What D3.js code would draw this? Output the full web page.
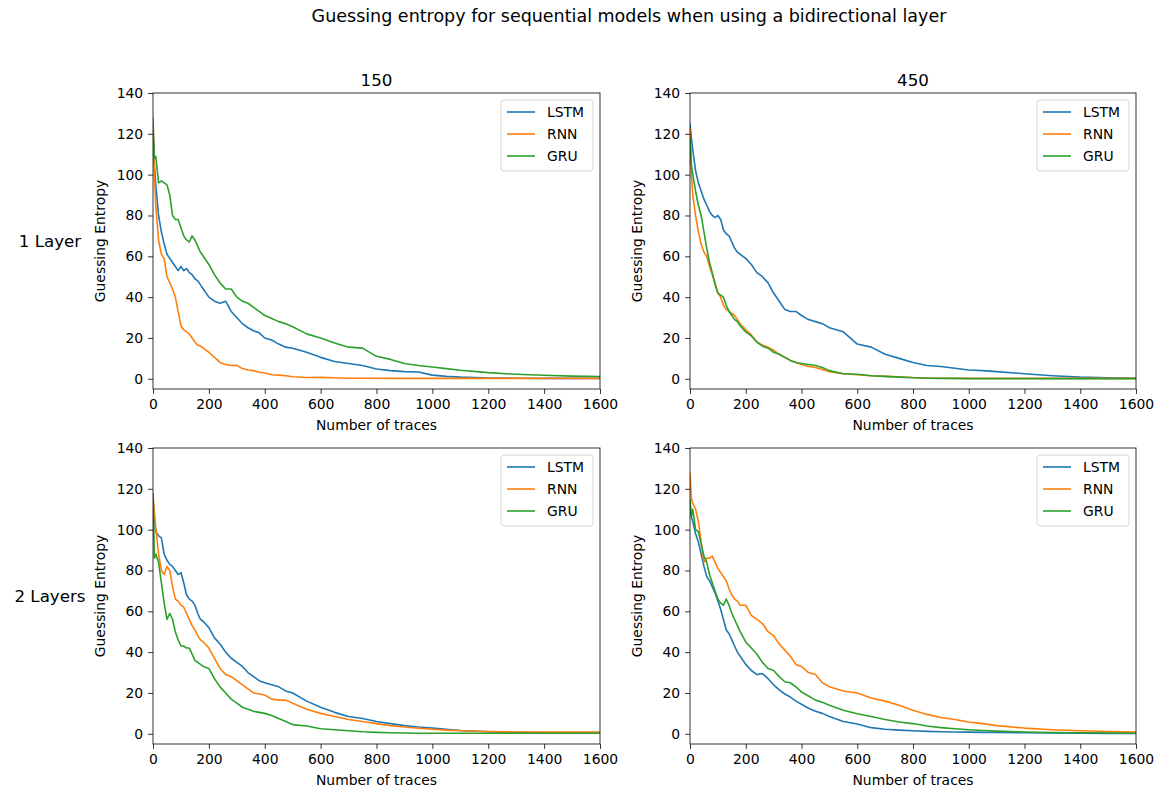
<!DOCTYPE html>
<html lang="en">
<head>
<meta charset="UTF-8">
<title>Guessing entropy</title>
<script src="https://d3js.org/d3.v7.min.js"></script>
<style>
    body {margin: 0; background: #fff;}
    text {font-family: "DejaVu Sans", sans-serif; fill: #000;}
</style>
</head>
<body>
<script>
    // number of traces (x positions shared by every curve)
    const traces = [0, 5, 10, 20, 30, 40, 50, 60, 70, 80, 90, 100, 110, 120, 130, 140, 150, 160, 170, 180,
        200, 220, 240, 260, 280, 300, 320, 340, 360, 380, 400, 425, 450, 475, 500,
        550, 600, 650, 700, 750, 800, 850, 900, 950, 1000, 1050, 1100, 1200, 1300, 1400, 1500, 1600];

    const models = ["LSTM", "RNN", "GRU"];
    const colNames = ["150", "450"];
    const rowNames = ["1 Layer", "2 Layers"];
    const yTicks = [0, 20, 40, 60, 80, 100, 120, 140];
    const xTicks = [0, 200, 400, 600, 800, 1000, 1200, 1400, 1600];

    // 1 layer, 150
    const l1_150_lstm = [121, 105, 95, 80, 72, 66, 61, 59, 57, 55, 53, 55, 53, 54, 52, 51, 49, 48, 46, 44,
        40, 38, 37, 38, 33, 30, 27, 25, 23.5, 22.5, 20, 19, 17, 15.5, 15,
        13, 10.5, 8.5, 7.5, 6.5, 4.8, 4, 3.5, 3.3, 1.8, 1.2, 0.8, 0.4, 0.3, 0.2, 0.2, 0.2];
    const l1_150_rnn = [128, 100, 85, 68, 61, 59, 50, 47, 44, 40, 33, 26, 24, 23, 22, 20, 18, 16.5, 16, 15,
        13, 10.5, 8, 7, 6.5, 6.6, 5, 4.3, 4, 3.2, 2.8, 2, 1.8, 1.5, 1,
        0.6, 0.7, 0.5, 0.3, 0.3, 0.3, 0.2, 0.2, 0.2, 0.2, 0.2, 0.2, 0.2, 0.2, 0.2, 0.2, 0.2];
    const l1_150_gru = [125, 108, 109, 96, 97, 96, 95, 90, 80, 78, 78, 74, 70, 68, 67, 70, 68, 65, 62, 60,
        56, 51, 47, 44, 44, 40, 38, 37, 35, 33, 31, 29.5, 28, 27, 25.5,
        22, 20, 17.5, 15.5, 15, 11, 9.5, 7.5, 6.5, 5.8, 5, 4.2, 3, 2.2, 1.7, 1.3, 1.1];

    // 1 layer, 450
    const l1_450_lstm = [125, 118, 112, 102, 96, 92, 88, 85, 82, 80, 79, 80, 78, 73, 71, 70, 67, 64, 62, 61,
        59, 56, 52, 50, 47, 42, 38, 34, 33, 33, 31, 29, 28, 27, 25,
        23, 17, 15.5, 12, 10, 8, 6.5, 6, 5.2, 4.3, 4, 3.5, 2.5, 1.5, 0.8, 0.5, 0.3];
    const l1_450_rnn = [123, 100, 90, 80, 72, 66, 62, 60, 55, 51, 47, 42, 40, 36, 34, 33, 32, 31, 29, 27,
        24, 21.5, 18, 16.5, 15.5, 14, 12, 10.5, 9, 8, 7, 6, 5.5, 4.5, 3.5,
        2.5, 2, 1.5, 1.2, 1, 0.6, 0.4, 0.3, 0.2, 0.2, 0.2, 0.2, 0.2, 0.2, 0.2, 0.2, 0.2];
    const l1_450_gru = [118, 105, 100, 92, 85, 80, 72, 64, 57, 52, 46, 42, 41, 40, 36, 33, 31, 29, 28, 26,
        23, 21, 18, 16, 15, 13, 12, 10.5, 9, 8, 7.5, 7, 6.5, 5.5, 4,
        2.5, 2.2, 1.5, 1.2, 0.8, 0.5, 0.3, 0.2, 0.2, 0.1, 0.1, 0.1, 0.1, 0.1, 0.1, 0.1, 0.1];

    // 2 layers, 150
    const l2_150_lstm = [116, 105, 99, 97, 96, 88, 85, 83, 82, 80, 78, 79, 74, 68, 66, 65, 63, 59, 56, 55,
        52, 47, 44, 40, 37, 35, 33, 30, 28, 26, 25, 24, 23, 21, 20,
        16, 13, 10.5, 8.5, 7.5, 6, 5, 4, 3.3, 2.8, 2.2, 1.6, 1, 0.7, 0.5, 0.4, 0.3];
    const l2_150_rnn = [117, 108, 101, 88, 80, 78, 82, 80, 72, 66, 65, 63, 62, 59, 56, 53, 51, 48, 46, 45,
        42, 37, 32, 29, 28, 26, 24, 22, 20, 19.5, 19, 17, 16.5, 16.5, 15,
        12, 10, 8.5, 7, 6, 5, 4, 3.3, 2.7, 2.2, 1.8, 1.5, 1.1, 0.9, 0.8, 0.8, 0.9];
    const l2_150_gru = [118, 86, 88, 84, 74, 64, 56, 59, 56, 50, 46, 43, 43, 42, 42, 39, 36, 35, 34, 33,
        32, 27, 23, 20, 17, 15, 13, 12, 11, 10.5, 10, 9, 7.5, 6, 4.5,
        3.8, 2.5, 2, 1.5, 1, 0.7, 0.5, 0.4, 0.3, 0.3, 0.3, 0.3, 0.3, 0.3, 0.3, 0.3, 0.3];

    // 2 layers, 450
    const l2_450_lstm = [112, 106, 104, 98, 94, 88, 82, 77, 75, 72, 69, 65, 61, 56, 51, 49, 46, 43, 40, 38,
        34, 31, 29, 29.5, 27, 24, 21.5, 19.5, 18, 16, 14.5, 12.5, 11, 10, 8.5,
        6, 4.8, 3, 2.2, 1.8, 1.5, 1.2, 1, 0.9, 0.8, 0.7, 0.6, 0.5, 0.4, 0.3, 0.2, 0.2];
    const l2_450_rnn = [128, 115, 113, 110, 104, 94, 84, 86, 86, 87, 84, 81, 79, 77, 75, 71, 68, 66, 65, 63,
        63, 58, 56, 54, 50, 48, 44, 41, 38, 34, 33, 30, 29, 25, 23,
        21, 20, 17.5, 16, 14, 11.5, 9.5, 8, 7, 5.8, 5, 4, 2.8, 2, 1.5, 1.1, 0.8];
    const l2_450_gru = [115, 106, 110, 100, 99, 93, 87, 84, 78, 74, 70, 66, 64, 63, 66, 63, 59, 56, 53, 50,
        45, 42, 39, 35, 32, 31, 28, 25.5, 25, 23, 20.5, 18.5, 16.5, 15.5, 14,
        11.5, 9.8, 8.5, 7, 5.8, 5, 3.8, 3, 2.5, 2, 1.6, 1.3, 0.9, 0.6, 0.5, 0.4, 0.3];

    const panels = [
        {row: 0, col: 0, series: [l1_150_lstm, l1_150_rnn, l1_150_gru]},
        {row: 0, col: 1, series: [l1_450_lstm, l1_450_rnn, l1_450_gru]},
        {row: 1, col: 0, series: [l2_150_lstm, l2_150_rnn, l2_150_gru]},
        {row: 1, col: 1, series: [l2_450_lstm, l2_450_rnn, l2_450_gru]}
    ];

    const width = 1162;
    const height = 791;
    const colX = [[153, 600], [690, 1136]];
    const rowY = [[93, 389], [448, 744]];
    const color = d3.scaleOrdinal().domain(models).range(["#1f77b4", "#ff7f0e", "#2ca02c"]);

    const svg = d3.select("body").append("svg")
            .attr("width", width).attr("height", height);

    svg.append("text")
            .attr("x", 629).attr("y", 22)
            .attr("text-anchor", "middle")
            .style("font-size", "17.5px")
            .text("Guessing entropy for sequential models when using a bidirectional layer");

    rowNames.forEach((name, r) => {
        svg.append("text")
                .attr("x", 50).attr("y", (rowY[r][0] + rowY[r][1]) / 2 + 6)
                .attr("text-anchor", "middle")
                .style("font-size", "16.7px")
                .text(name);
    });

    panels.forEach(drawPanel);

    function drawPanel(p) {
        const [x0, x1] = colX[p.col];
        const [y0, y1] = rowY[p.row];
        const x = d3.scaleLinear().domain([0, 1600]).range([x0, x1]);
        const y = d3.scaleLinear().domain([-5, 140]).range([y1, y0]);
        const g = svg.append("g").attr("class", "panel");

        const clipId = "clip" + p.row + p.col;
        g.append("clipPath").attr("id", clipId)
                .append("rect")
                .attr("x", x0).attr("y", y0)
                .attr("width", x1 - x0).attr("height", y1 - y0);

        const line = d3.line()
                .x((d, i) => x(traces[i]))
                .y(d => y(d));

        g.append("g").attr("clip-path", `url(#${clipId})`)
                .selectAll("path.curve")
                .data(p.series)
                .enter()
                .append("path")
                .attr("class", "curve")
                .attr("d", line)
                .style("fill", "none")
                .style("stroke", (d, i) => color(models[i]))
                .style("stroke-width", 1.6)
                .style("stroke-linejoin", "round");

        const xAxis = g.append("g")
                .attr("transform", `translate(0,${y1})`)
                .call(d3.axisBottom(x).tickValues(xTicks).tickSize(4.9).tickPadding(5.5).tickFormat(d3.format("d")));
        const yAxis = g.append("g")
                .attr("transform", `translate(${x0},0)`)
                .call(d3.axisLeft(y).tickValues(yTicks).tickSize(4.9).tickPadding(4.9));
        [xAxis, yAxis].forEach(a => {
            a.select(".domain").remove();
            a.selectAll("line").style("stroke", "#000").style("stroke-width", 0.8);
            a.selectAll("text").style("font-size", "13.9px").style("font-family", '"DejaVu Sans", sans-serif').attr("fill", "#000");
        });

        g.append("rect")
                .attr("x", x0).attr("y", y0)
                .attr("width", x1 - x0).attr("height", y1 - y0)
                .style("fill", "none")
                .style("stroke", "#000")
                .style("stroke-width", 0.8);

        if (p.row === 0) {
            g.append("text")
                    .attr("x", (x0 + x1) / 2).attr("y", y0 - 7)
                    .attr("text-anchor", "middle")
                    .style("font-size", "16.7px")
                    .text(colNames[p.col]);
        }

        g.append("text")
                .attr("x", (x0 + x1) / 2).attr("y", y1 + 41)
                .attr("text-anchor", "middle")
                .style("font-size", "13.9px")
                .text("Number of traces");

        g.append("text")
                .attr("transform", `translate(${x0 - 48},${(y0 + y1) / 2}) rotate(-90)`)
                .attr("text-anchor", "middle")
                .style("font-size", "13.9px")
                .text("Guessing Entropy");

        drawLegend(g, x1, y0);
    }

    function drawLegend(g, right, top) {
        const w = 92, h = 71;
        const lx = right - 7 - w, ly = top + 7;
        const leg = g.append("g").attr("class", "legend");
        leg.append("rect")
                .attr("x", lx).attr("y", ly)
                .attr("width", w).attr("height", h)
                .attr("rx", 3).attr("ry", 3)
                .style("fill", "#fff").style("fill-opacity", 0.8)
                .style("stroke", "#cccccc").style("stroke-width", 0.8);
        models.forEach((m, i) => {
            const cy = ly + 12 + i * 22;
            leg.append("line")
                    .attr("x1", lx + 6).attr("x2", lx + 34)
                    .attr("y1", cy).attr("y2", cy)
                    .style("stroke", color(m)).style("stroke-width", 1.6);
            leg.append("text")
                    .attr("x", lx + 46).attr("y", cy + 5)
                    .style("font-size", "13.9px")
                    .text(m);
        });
    }
</script>
</body>
</html>
